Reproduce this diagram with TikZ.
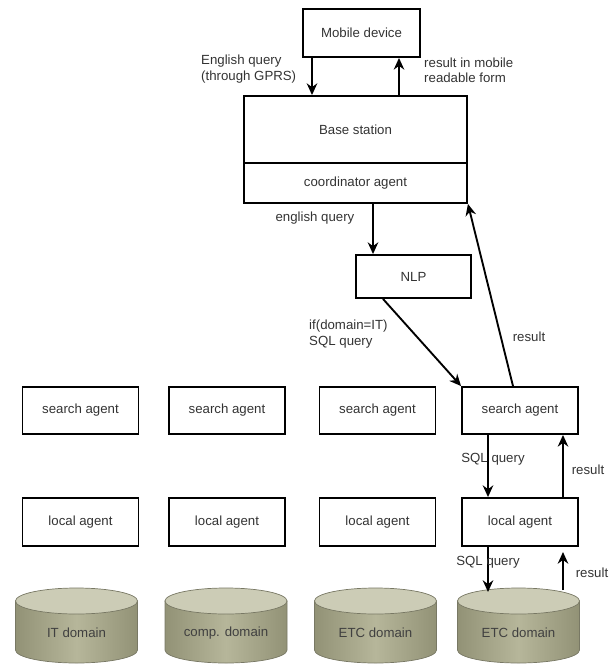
\documentclass[tikz,border=0pt]{standalone}
\usepackage{fontspec}
\setmainfont{Liberation Sans}
\usepackage{tikz}
\usetikzlibrary{arrows.meta,positioning,calc}

\definecolor{dbside}{RGB}{182,182,154}
\definecolor{dbdark}{RGB}{146,146,118}
\definecolor{dbtop}{RGB}{204,204,182}
\definecolor{dbedge}{RGB}{120,120,100}

\begin{document}
\begin{tikzpicture}[
			x=0.03cm, y=0.03cm,
			font=\fontsize{11.3}{13}\selectfont,
			block/.style={rectangle, draw, line width=1.6pt, minimum width=3.48cm, minimum height=1.41cm, inner sep=0pt, text=black!80},
			dep/.style={-{Stealth[length=10pt,width=9pt]}, line width=1.6pt},
			lbl/.style={inner sep=0pt, text=black!80, align=left}
			]
			
			\useasboundingbox (0,0) rectangle (614,-665);
			
			% Mobile device and base station
			\node[block, minimum width=3.51cm, minimum height=1.44cm] (mobile) at (361.5,-33) {Mobile device};
			\node[block, minimum width=6.69cm, minimum height=2.01cm] (base) at (355.5,-129.5) {Base station};
			\node[block, minimum width=6.69cm, minimum height=1.2cm, below=-1.6pt of base] (coord) {coordinator agent};
			
			% NLP
			\node[block, minimum width=3.45cm, minimum height=1.29cm] (nlp) at (413.5,-276.5) {NLP};
			
			% Search agents and local agents
			\foreach \i/\x in {1/80.5, 2/227, 3/377.5, 4/520} {
				\node[block] (search\i) at (\x,-410.5) {search agent};
				\node[block, minimum height=1.44cm] (local\i) at (\x,-522) {local agent};
			}
			
			% Domain databases
			\foreach \x/\name/\txt in {76.5/itdb/IT domain, 226/compdb/comp. domain, 375.5/etcdbA/ETC domain, 518.5/etcdbB/ETC domain} {
				\path[draw=dbedge, line width=0.6pt, left color=dbdark, right color=dbdark, middle color=dbside]
					({\x-61},-601) -- ({\x-61},-650) arc[start angle=180, end angle=360, x radius=61, y radius=13] -- ({\x+61},-601) -- cycle;
				\path[draw=dbedge, line width=0.6pt, fill=dbtop] (\x,-601) ellipse[x radius=61, y radius=13];
				\node[lbl, text=black!75] (\name) at (\x,-633) {\txt};
			}
			
			% Arrow positions
			\coordinate (qin) at (312,0);
			\coordinate (qout) at (399,0);
			\coordinate (eq) at (373,0);
			\coordinate (nlpout) at (383,0);
			\coordinate (rx) at (513,0);
			\coordinate (sq) at (488,0);
			\coordinate (rs) at (563,0);
			\coordinate (dbq) at (488,-592);
			\coordinate (dbr) at (563,-590);
			\coordinate (resend) at (563,-552);
			
			% Connectors
			\draw[dep] (mobile.south -| qin) -- (base.north -| qin);
			\draw[dep] (base.north -| qout) -- (mobile.south -| qout);
			\draw[dep] (coord.south -| eq) -- (nlp.north -| eq);
			\draw[dep] (nlp.south -| nlpout) -- (search4.north west);
			\draw[dep] (search4.north -| rx) -- (coord.south east);
			\draw[dep] (search4.south -| sq) -- (local4.north -| sq);
			\draw[dep] (local4.north -| rs) -- (search4.south -| rs);
			\draw[dep] (local4.south -| sq) -- (dbq);
			\draw[dep] (dbr) -- (resend);
			
			% Labels
			\node[lbl, anchor=west] at (201,-69) {English query\\(through GPRS)};
			\node[lbl, anchor=west] at (424,-70) {result in mobile\\readable form};
			\node[lbl] at (315,-218) {english query};
			\node[lbl, anchor=west] at (309,-334) {if(domain=IT)\\SQL query};
			\node[lbl] at (529,-337) {result};
			\node[lbl] at (493,-459) {SQL query};
			\node[lbl] at (588,-470) {result};
			\node[lbl] at (488,-562) {SQL query};
			\node[lbl] at (592,-573) {result};
			
		\end{tikzpicture}
\end{document}
